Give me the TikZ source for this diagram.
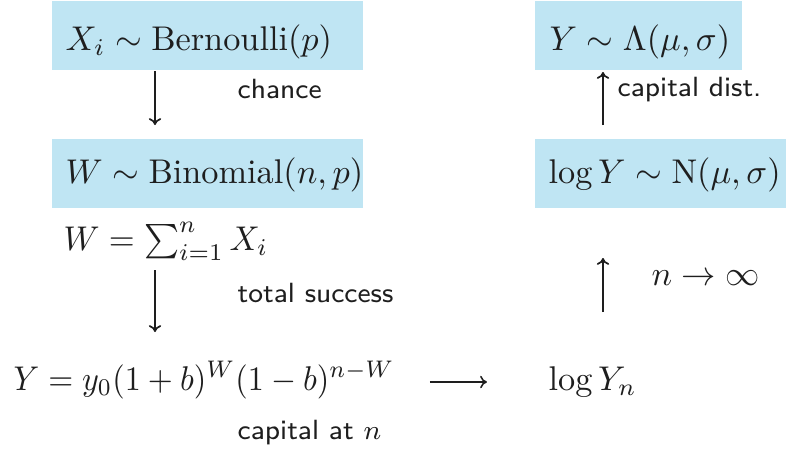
\documentclass[tikz,border=0pt]{standalone}
\usepackage{fontspec}
\usetikzlibrary{arrows.meta}
\definecolor{boxblue}{RGB}{191,229,243}
\definecolor{ink}{RGB}{30,30,30}
\tikzset{
  mtext/.style={inner sep=0pt, anchor=base west, text=ink},
  lbl/.style={inner sep=0pt, anchor=base west, text=ink, font=\fontsize{8.1}{10}\selectfont\sffamily},
  arr/.style={draw=ink, line width=0.5pt, -{To[length=2pt,width=3.6pt]}},
  longarr/.style={draw=ink, line width=0.45pt, -{To[length=2pt,width=3.6pt]}},
  bluebox/.style={fill=boxblue, draw=none}
}
\begin{document}
\begin{tikzpicture}[x=0.2915pt, y=-0.2915pt]
\useasboundingbox (0,0) rectangle (786,452);
% boxes
\fill[bluebox] (52,1) rectangle (363,70);
\fill[bluebox] (52,139) rectangle (363,208);
\fill[bluebox] (535,1) rectangle (742,70);
\fill[bluebox] (535,139) rectangle (786,208);
% math texts
\node[mtext] (bern) at (65,50) {$X_i \sim \mathrm{Bernoulli}(p)$};
\node[mtext] (binom) at (65,183) {$W \sim \mathrm{Binomial}(n,p)$};
\node[mtext] (lognorm) at (549,50) {$Y \sim \Lambda(\mu,\sigma)$};
\node[mtext] (norm) at (548,183) {$\log Y \sim \mathrm{N}(\mu,\sigma)$};
\node[mtext] (wsum) at (63,250) {\scalebox{0.97}[1]{$W = \sum_{i=1}^n X_i$}};
\node[mtext] (yeq) at (13,390) {\scalebox{0.935}[1]{$Y = y_0(1+b)^W(1-b)^{n-W}$}};
\node[mtext] (logyn) at (548,390) {$\log Y_n$};
% labels
\node[lbl] (lchance) at (237,98) {chance};
\node[lbl] (ltotal) at (237,302) {total success};
\node[lbl] (lcap) at (237,439) {capital at $n$};
\node[lbl] (ldist) at (617,96) {capital dist.};
\node[mtext] (llim) at (651,285) {$n \to \infty$};
% arrow end points
\coordinate (a1s) at (155,71);
\coordinate (a1e) at (155,125);
\coordinate (a2s) at (155,270);
\coordinate (a2e) at (155,332);
\coordinate (a3s) at (603,125);
\coordinate (a3e) at (603,72);
\coordinate (a4s) at (603,312);
\coordinate (a4e) at (603,258);
\coordinate (a5s) at (430,382);
\coordinate (a5e) at (487,382);
% connectors
\draw[arr] (a1s) -- (a1e);
\draw[arr] (a2s) -- (a2e);
\draw[arr] (a3s) -- (a3e);
\draw[arr] (a4s) -- (a4e);
\draw[longarr] (a5s) -- (a5e);
\end{tikzpicture}
\end{document}
